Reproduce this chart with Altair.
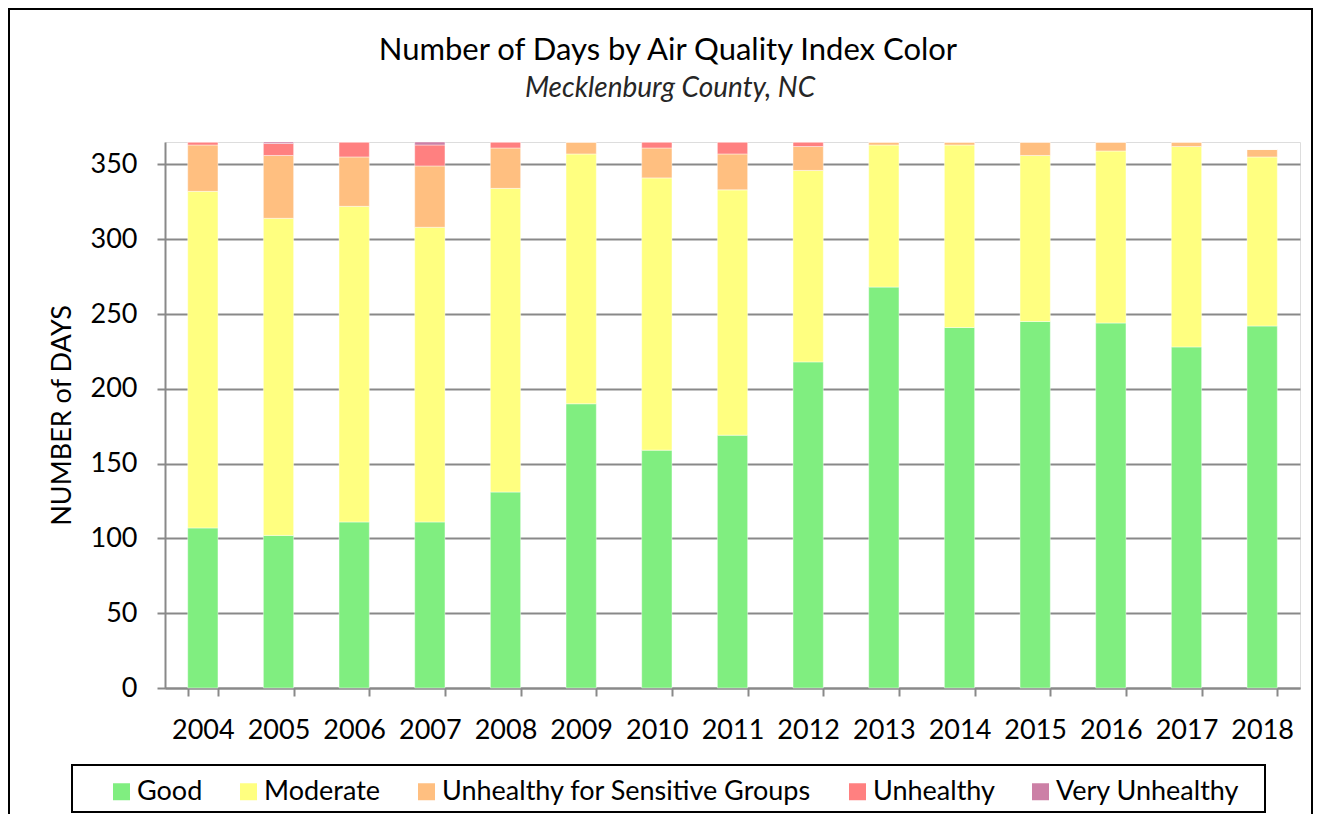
import altair as alt
import pandas as pd

years = [str(y) for y in range(2004, 2019)]
categories = ["Good", "Moderate", "Unhealthy for Sensitive Groups", "Unhealthy", "Very Unhealthy"]
colors = ["#80EE80", "#FFFF80", "#FFBF80", "#FF8080", "#CC80A6"]

good = [107, 102, 111, 111, 131, 190, 159, 169, 218, 268, 241, 245, 244, 228, 242]
moderate = [225, 212, 211, 197, 203, 167, 182, 164, 128, 95, 122, 111, 115, 134, 113]
usg = [31, 42, 33, 41, 27, 8, 20, 24, 16, 2, 2, 9, 6, 3, 5]
unhealthy = [2, 8, 10, 14, 4, 0, 4, 8, 3, 0, 0, 0, 0, 0, 0]
very_unhealthy = [0, 1, 0, 2, 0, 0, 0, 0, 0, 0, 0, 0, 0, 0, 0]
y_ticks = [0, 50, 100, 150, 200, 250, 300, 350]

title_text = ["Number of Days by Air Quality Index Color"]
subtitle_text = ["Mecklenburg County, NC"]

series = [good, moderate, usg, unhealthy, very_unhealthy]
rows = []
for ci, (cat, vals) in enumerate(zip(categories, series)):
    for yr, v in zip(years, vals):
        rows.append({"Year": yr, "Category": cat, "Days": v, "order": ci})
df = pd.DataFrame(rows)

FONT = "Lato"
W, H = 1135, 546

bars = alt.Chart(df).mark_bar(stroke="white", strokeWidth=0.6, strokeOpacity=0.7).encode(
    x=alt.X("Year:N", sort=years,
            scale=alt.Scale(paddingInner=0.6, paddingOuter=0.3),
            axis=alt.Axis(title=None, labelAngle=0, labelFontSize=27, labelFont=FONT,
                          labelColor="#000000", labelPadding=21, tickSize=8,
                          tickColor="#898989", tickWidth=2, domainColor="#898989",
                          domainWidth=2, tickBand="extent", grid=False)),
    y=alt.Y("Days:Q", stack="zero",
            scale=alt.Scale(domain=[0, 365], nice=False),
            axis=alt.Axis(title="NUMBER of DAYS", values=y_ticks, labelFontSize=27,
                          labelFont=FONT, labelColor="#000000", labelPadding=20,
                          tickSize=8, tickColor="#898989", tickWidth=2,
                          domainColor="#898989", domainWidth=2, grid=True,
                          gridColor="#898989", gridWidth=2,
                          titleFontSize=27, titleFont=FONT, titleFontWeight="normal",
                          titleColor="#000000", titlePadding=14)),
    color=alt.Color("Category:N", sort=categories,
                    scale=alt.Scale(domain=categories, range=colors),
                    legend=alt.Legend(title=None, orient="none", direction="horizontal",
                                      legendX=-57, legendY=636,
                                      symbolType="square", symbolSize=289,
                                      symbolStrokeWidth=0, symbolOpacity=1,
                                      labelFontSize=27, labelFont=FONT,
                                      labelColor="#000000", labelOffset=2,
                                      columnPadding=32, labelLimit=600)),
    order=alt.Order("order:Q", sort="ascending"),
)

one = pd.DataFrame({"t": title_text, "s": subtitle_text})

title = alt.Chart(one).mark_text(
    font=FONT, fontSize=31, color="#000000", align="center", baseline="middle"
).encode(text="t:N", x=alt.value(503), y=alt.value(-91))

subtitle = alt.Chart(one).mark_text(
    font=FONT, fontSize=28, fontStyle="italic", color="#262626",
    align="center", baseline="middle"
).encode(text="s:N", x=alt.value(505), y=alt.value(-53))

legend_box = alt.Chart(one).mark_rect(
    fill=None, stroke="black", strokeWidth=2
).encode(
    x=alt.value(-93), x2=alt.value(1100), y=alt.value(623), y2=alt.value(670)
)

outer_box = alt.Chart(one).mark_rect(
    fill=None, stroke="black", strokeWidth=2
).encode(
    x=alt.value(-156), x2=alt.value(1147), y=alt.value(-133), y2=alt.value(760)
)

chart = alt.layer(bars, title, subtitle, legend_box, outer_box).properties(
    width=W, height=H,
    padding={"left": 157, "top": 134, "right": 20, "bottom": 126},
    autosize=alt.AutoSizeParams(type="none"),
).configure_view(stroke="black", strokeWidth=2).configure(background="white")

chart.save("out.html", embed_options={"renderer": "svg", "actions": False})
